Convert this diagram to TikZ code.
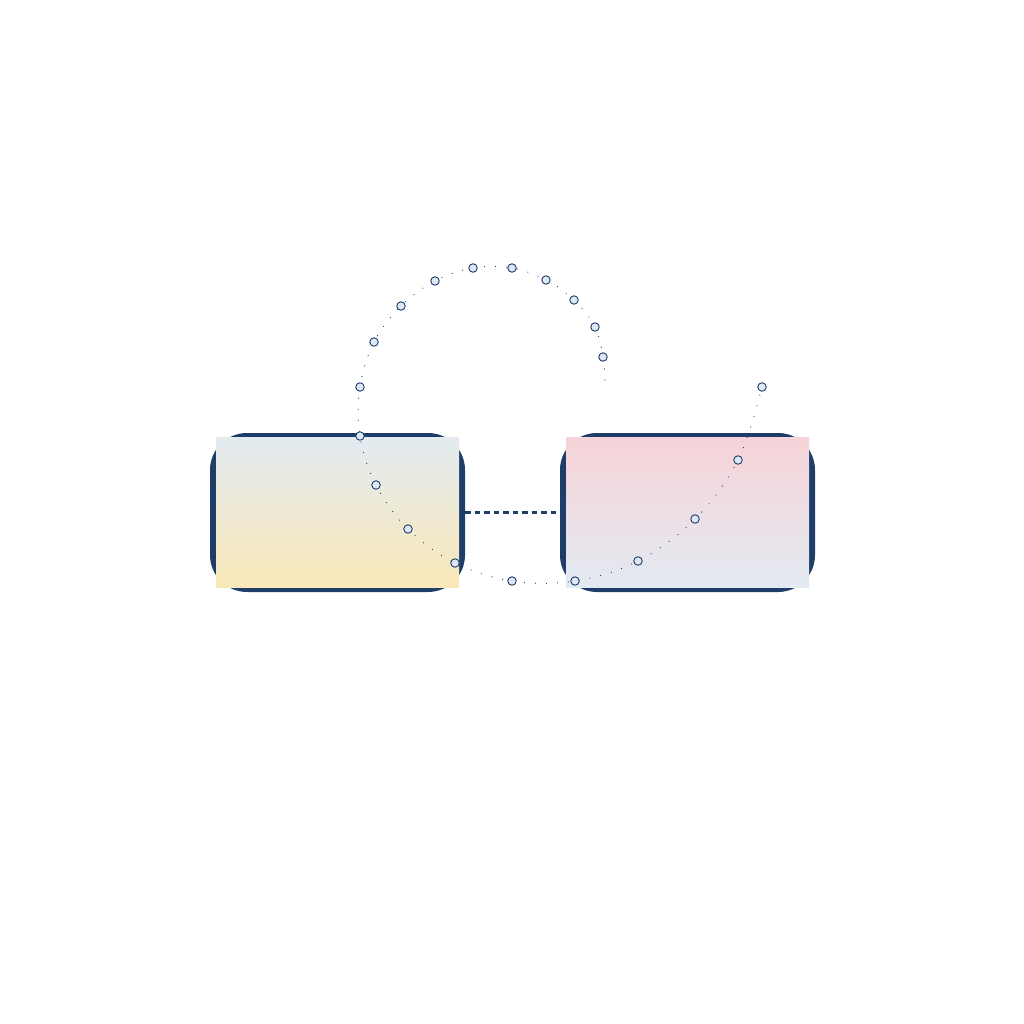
\documentclass[tikz,border=0pt]{standalone}
\usetikzlibrary{shapes.misc}
\definecolor{navy}{HTML}{1F3D69}
\definecolor{ltop}{HTML}{E3EBF1}
\definecolor{lbot}{HTML}{F9E8B8}
\definecolor{rtop}{HTML}{F6D3D8}
\definecolor{rbot}{HTML}{E3EAF2}
\definecolor{dotfill}{HTML}{DDE8F4}
\begin{document}
\begin{tikzpicture}[x=1pt,y=-1pt,
  boxframe/.style={draw=navy, line width=6pt, rounded corners=34pt, minimum width=249pt, minimum height=153pt, inner sep=0pt},
  boxfill/.style={minimum width=243pt, minimum height=150pt, inner sep=0pt, draw=none},
  conn/.style={draw=navy, line width=2.1pt, dash pattern=on 5.5pt off 4pt},
  trail/.style={draw=navy, line width=1.2pt, line cap=round, dash pattern=on 0pt off 11pt},
  marker/.style={circle, draw=navy, fill=dotfill, line width=0.9pt, minimum size=8.5pt, inner sep=0pt}]
\useasboundingbox (0,0) rectangle (1024,1024);
\node[boxframe] (L) at (337.5,512.5) {};
\node[boxframe] (R) at (687.5,512.5) {};
\node[boxfill, top color=ltop, bottom color=lbot] (Lf) at (337.5,512) {};
\node[boxfill, top color=rtop, bottom color=rbot] (Rf) at (687.5,512) {};
\draw[conn] (L.east) -- (R.west);
\coordinate (s) at (605,380);
\foreach \n/\p in {1/{603,357},2/{595,327},3/{574,300},4/{546,280},5/{512,268},6/{473,268},7/{435,281},8/{401,306},9/{374,342},10/{360,387},11/{360,436},12/{376,485},13/{408,529},14/{455,563},15/{512,581},16/{575,581},17/{638,561},18/{695,519},19/{738,460},20/{762,387}}
  \coordinate (c\n) at (\p);
\draw[trail] plot[smooth, tension=0.6] coordinates {(s) (c1) (c2) (c3) (c4) (c5) (c6) (c7) (c8) (c9) (c10) (c11) (c12) (c13) (c14) (c15) (c16) (c17) (c18) (c19) (c20)};
\foreach \n in {1,...,20}
  \node[marker] (m\n) at (c\n) {};
\end{tikzpicture}
\end{document}
